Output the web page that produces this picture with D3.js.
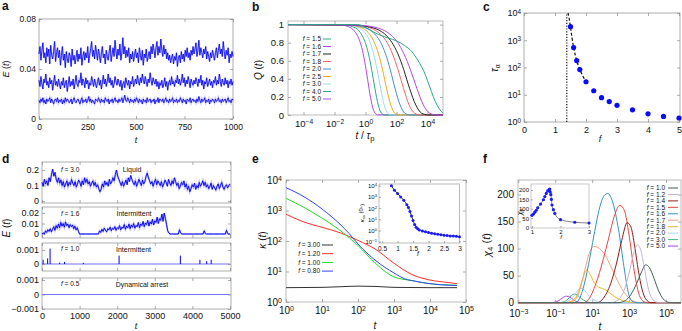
<!DOCTYPE html>
<html><head><meta charset="utf-8">
<script src="https://cdn.jsdelivr.net/npm/d3@7"></script>
<style>body{margin:0;background:#fff}</style>
</head><body><svg id="c" width="682" height="331" xmlns="http://www.w3.org/2000/svg"></svg>
<script>
const FONT = '"Liberation Sans", Arial, Helvetica, sans-serif';
// ---------------- DATA ----------------
// Panel a: E(t), values in units of 1e-3, t from 0 to 1000
const aTRange = [0, 1000];
const aHigh = [52,58,47,55,61,49,53,45,57,50,56,44,59,51,48,54,62,46,53,57,
49,55,43,51,58,47,52,41,54,48,45,53,50,42,56,47,51,44,49,55,
46,52,48,57,43,50,54,47,53,49,58,45,51,56,62,50,55,48,59,53,
47,56,51,45,53,58,49,52,44,55,50,47,54,59,46,52,57,50,63,54,
48,56,51,60,47,53,65,52,58,49,55,50,57,45,52,48,54,46,51,56,
49,53,45,57,51,47,55,43,52,49,56,46,50,54,48,58,52,60,55,49,
57,62,51,58,53,64,55,50,59,52,56,48,53,47,51,45,49,52,44,50,
47,53,42,49,51,45,54,48,52,46,55,50,57,49,53,47,55,51,58,52,
56,61,50,55,63,51,57,53,49,56,52,58,48,54,50,46,53,49,55,51,
47,53,57,49,55,60,52,56,50,62,54,48,55,51,57,45,52,49,54,50];
const aMid = [31,26,34,28,24,32,29,36,27,30,25,33,28,31,23,29,35,27,30,26,
32,28,24,30,27,33,25,29,31,22,28,34,26,30,27,32,24,29,35,28,
26,31,29,37,27,32,30,25,33,28,31,24,29,27,34,30,26,32,28,25,
30,33,27,31,24,29,35,28,32,26,30,36,29,33,27,31,25,28,34,30,
27,32,29,26,31,23,28,30,25,33,29,27,31,24,30,28,34,26,29,32,
28,35,30,27,33,29,36,31,28,34,30,26,32,29,37,31,27,33,30,28,
32,26,30,24,29,27,31,25,28,33,26,30,23,29,31,27,34,28,30,26,
31,29,35,28,32,27,30,36,29,33,26,31,28,34,30,25,32,29,27,31,
28,33,30,26,32,29,35,27,31,24,30,28,33,26,29,32,27,30,25,31,
29,34,27,31,28,36,30,26,32,29,27,33,28,31,25,30,28,32,27,30];
const aLow = [15,13,16,14,17,13,15,12,16,14,15,17,13,16,14,12,15,16,14,17,
13,15,14,16,12,15,13,17,14,16,15,13,14,16,12,15,17,14,13,15,
16,14,12,15,17,13,15,14,16,13,15,18,14,16,13,15,14,12,16,15,
14,17,15,13,16,14,15,13,17,15,14,16,12,15,14,16,13,15,17,14,
15,13,16,14,15,17,13,16,19,15,14,17,15,13,16,14,15,13,16,14,
17,15,13,16,14,15,12,16,14,15,13,17,14,15,16,13,15,14,16,12,
15,14,17,13,16,15,14,16,13,15,17,14,15,13,16,14,15,17,13,15,
14,16,13,15,14,17,15,13,16,14,15,12,16,15,14,17,13,15,16,14,
15,13,16,14,18,15,13,16,14,15,17,13,15,14,16,12,15,14,16,15,
13,16,14,15,17,14,15,13,16,14,15,16,13,15,17,14,15,13,16,15];
const aXTicks = [0,250,500,750,1000];
const aYTicks = [0,0.04,0.08];
const aYLabels = ["0","0.04","0.08"];

// Panel b: Q(t) curves, pairs [log10(t/tau_p), Q]
const bF = ["1.5","1.6","1.7","1.8","2.0","2.5","3.0","4.0","5.0"];
const bColors = ["#2aa58a","#b347e6","#222222","#f26666","#3d8fcf","#f0a91a","#a3d7f0","#2aa58a","#b347e6"];
const qLevels = [1,0.993,0.978,0.933,0.884,0.803,0.677,0.5,0.291,0.112,0.02,0.001,0];
const bLogT = {
  "1.6": [-5,-0.43,0.4,1.23,1.65,2.07,2.48,2.9,3.32,3.73,4.15,4.57,5],
  "1.7": [-5,-0.61,0.16,0.93,1.32,1.70,2.09,2.47,2.85,3.24,3.62,4.01,5],
  "1.8": [-5,-0.76,-0.04,0.67,1.03,1.39,1.74,2.1,2.46,2.81,3.17,3.53,5],
  "2.0": [-5,-0.9,-0.28,0.35,0.66,0.98,1.29,1.6,1.91,2.23,2.54,2.85,5],
  "2.5": [-5,-1.01,-0.48,0.05,0.31,0.57,0.84,1.10,1.36,1.63,1.89,2.15,5],
  "3.0": [-5,-1.07,-0.61,-0.16,0.07,0.30,0.52,0.75,0.98,1.20,1.43,1.66,5],
  "4.0": [-5,-1.27,-0.85,-0.43,-0.23,-0.02,0.19,0.40,0.61,0.82,1.03,1.23,5],
  "5.0": [-5,-1.50,-1.11,-0.73,-0.54,-0.34,-0.15,0.04,0.23,0.42,0.62,0.81,5]
};
const b15LogT = [-5,-0.5,0,0.5,1,1.5,2,2.5,3,3.25,3.5,3.75,4,4.25,4.5,4.75,5];
const b15Q =    [1,1,0.97,0.92,0.88,0.85,0.82,0.77,0.7,0.64,0.57,0.49,0.38,0.26,0.15,0.07,0.02];
const bXTicks = [1e-4,1e-2,1,1e2,1e4];
const bYTicks = [0,0.2,0.4,0.6,0.8,1];

// Panel c: tau_alpha vs f
const cF =   [1.5,1.6,1.7,1.8,2.0,2.25,2.5,2.75,3.0,3.5,4.0,4.5,5.0];
const cTau = [3160,540,180,84,30,14,7.8,5.6,4.1,2.8,2.0,1.6,1.4];
const cFitF =   [1.42,1.46,1.5,1.55,1.6,1.65,1.7,1.8,1.9,2.0];
const cFitTau = [10000,6000,3000,1200,550,300,180,85,48,30];
const cFc = 1.38;
const cXTicks = [0,1,2,3,4,5];
const cYTicks = [1,10,100,1000,10000];

// Panel d: E(t) four regimes, t from 0 to 5000
const dTRange = [0, 5000];
const d1 = [120,95,140,110,130,100,150,125,170,205,160,185,140,120,150,115,135,100,125,90,110,130,95,120,105,140,115,100,125,90,110,135,120,95,130,105,150,120,140,110,125,95,115,130,100,120,90,105,80,60,75,110,90,130,105,120,95,140,110,125,150,130,170,200,160,140,120,100,125,95,115,135,105,150,125,165,140,120,105,130,95,115,140,120,100,135,110,125,160,180,150,130,110,125,95,120,140,105,130,115,100,125,90,110,135,120,95,140,115,100,130,110,150,125,100,115,80,95,120,105,130,90,110,75,95,60,80,105,90,115,75,100,85,120,95,110,130,100,120,90,105,80,95,115,75,100,85,70,95,110,80,100,120,90,75,95,105,85,100,110]; // x1e-3
const d2 = [0,10,0,30,15,40,25,50,20,45,70,35,80,55,95,60,110,75,100,65,115,80,95,60,90,70,85,50,75,40,60,25,0,0,0,0,0,0,0,0,0,0,0,0,0,0,0,0,0,30,15,45,25,55,35,20,50,40,65,30,55,45,70,35,60,50,80,40,65,55,90,45,75,60,95,50,85,65,100,55,80,70,110,60,95,80,120,70,105,90,130,75,115,95,140,85,125,110,160,100,145,130,190,120,200,150,90,30,10,0,0,0,0,0,0,0,0,40,10,0,0,0,0,0,0,0,0,0,0,0,0,0,0,0,0,0,0,0,30,5,0,0,0,0,0,0,0,0,0,0,0,0,0,0,0,0,0,35,5,0,0]; // x1e-4
const d3SpikeT = [30,150,215,470,600,1100,2050,3680,4200,4380,4500];
const d3SpikeE = [3,4,11,1,1.5,0.8,6,6,3,2,3]; // x1e-4
const d4T = [0,5000], d4E = [0,0];
const dXTicks = [0,1000,2000,3000,4000,5000];

// Panel e: kappa(t), pairs [log10 t, log10 kappa]
const eF = ["3.00","1.20","1.00","0.80"];
const eColors = ["#333333","#ff2d2d","#22dd22","#3344ff"];
const eCurves = [
  [[0,0.47],[1,0.48],[1.5,0.5],[2,0.52],[2.5,0.51],[3,0.48],[4,0.47],[4.75,0.47]],
  [[0,2.88],[0.5,2.62],[1,2.45],[1.5,2.27],[2,2.02],[2.5,1.72],[3,1.27],[3.5,0.9],[4,0.72],[4.5,0.64],[4.75,0.6]],
  [[0,3.4],[0.5,3.1],[1,2.75],[1.5,2.35],[2,1.85],[2.5,1.25],[3,0.82],[3.5,0.7],[4,0.6],[4.5,0.56],[4.75,0.55]],
  [[0,3.75],[0.5,3.45],[1,3.05],[1.5,2.55],[1.75,2.25],[2,1.9],[2.5,1.35],[3,0.95],[3.3,0.76],[3.6,0.68],[4,0.6],[4.5,0.55],[4.75,0.54]]
];
const eXTicks = [1,10,100,1e3,1e4,1e5];
const eYTicks = [1,10,100,1e3,1e4];
const eInsF = [0.8,0.9,1.0,1.1,1.2,1.3,1.35,1.4,1.45,1.5,1.55,1.6,1.65,1.7,1.8,1.9,2.0,2.1,2.2,2.3,2.4,2.5,2.6,2.7,2.8,2.9,3.0];
const eInsK = [10000,3980,2000,1000,500,200,112,50,20,8,3.5,2.0,1.4,1.1,0.9,0.76,0.66,0.58,0.5,0.46,0.42,0.38,0.35,0.33,0.32,0.3,0.28];
const eInsXTicks = [0.5,1,1.5,2,2.5,3];
const eInsYTicks = [0.1,1,10,100,1000,10000];

// Panel f: chi4(t), pairs [log10 t, chi4]
const fF = ["1.0","1.2","1.4","1.5","1.6","1.7","1.8","2.0","3.0","5.0"];
const fColors = ["#3f6151","#c2b4cf","#8e1b1b","#e9473f","#2f93cc","#f5a27a","#efb428","#a5d8f0","#3fb28e","#a742e0"];
const fCurves = [
  [[-3,0],[2.4,0],[2.8,4],[3.1,15],[3.4,35],[3.65,55],[3.9,70],[4.1,65],[4.35,45],[4.6,22],[4.85,7],[5.1,1],[5.4,0],[5.8,0]],
  [[-3,0],[2.0,0],[2.4,5],[2.7,20],[3.0,55],[3.2,85],[3.45,107],[3.65,95],[3.85,60],[4.05,25],[4.3,5],[4.6,0],[5.8,0]],
  [[-3,0],[1.3,0],[1.6,8],[2.0,35],[2.3,70],[2.6,115],[2.9,148],[3.1,140],[3.3,105],[3.5,60],[3.7,25],[3.9,7],[4.2,0],[5.8,0]],
  [[-3,0],[0.5,0],[0.8,6],[1.2,35],[1.6,80],[1.9,120],[2.2,160],[2.5,180],[2.75,170],[3.0,125],[3.25,65],[3.5,20],[3.75,3],[4.0,0],[5.8,0]],
  [[-3,0],[0.0,0],[0.2,2],[0.5,25],[0.8,70],[1.1,125],[1.4,175],[1.65,198],[1.85,202],[2.05,192],[2.2,175],[2.5,120],[2.75,60],[2.95,20],[3.15,3],[3.4,0],[5.8,0]],
  [[-3,0],[-0.4,0],[0,3],[0.3,20],[0.6,60],[0.85,92],[1.1,104],[1.4,100],[1.7,88],[2.0,68],[2.3,46],[2.6,26],[2.9,12],[3.2,4],[3.6,0],[5.8,0]],
  [[-3,0],[-0.5,0],[-0.1,3],[0.2,15],[0.45,40],[0.7,60],[0.9,52],[1.1,38],[1.3,30],[1.55,26],[1.8,22],[2.1,14],[2.5,6],[3,1.5],[3.5,0],[5.8,0]],
  [[-3,0],[-0.6,0],[-0.3,3],[0,12],[0.2,22],[0.35,27],[0.55,24],[0.8,14],[1.1,5],[1.5,1],[2,0],[5.8,0]],
  [[-3,0],[-0.8,0],[-0.5,2],[-0.3,7],[-0.1,14],[0.05,16],[0.2,14],[0.4,8],[0.7,2],[1,0],[5.8,0]],
  [[-3,0],[-1.3,0],[-1,1],[-0.8,4],[-0.6,9],[-0.4,12],[-0.2,10],[0,5],[0.2,1.5],[0.5,0],[5.8,0]]
];
const fXTicks = [1e-3,1e-1,10,1e3,1e5];
const fYTicks = [0,50,100,150,200];
const fInsF =   [1.0,1.05,1.1,1.15,1.2,1.3,1.4,1.45,1.5,1.55,1.6,1.62,1.64,1.66,1.68,1.7,1.75,1.8,2.0,2.5,3.0];
const fInsChi = [65,72,82,92,105,125,148,165,182,195,202,205,190,175,150,120,95,75,42,28,24];
const fInsXTicks = [1,2,3];
const fInsYTicks = [0,50,100,150,200];

// ---------------- DRAWING ----------------
const svg = d3.select('#c');
svg.append('rect').attr('width',682).attr('height',331).attr('fill','#fff');

function frame(x0,y0,x1,y1,stroke){
  svg.append('rect').attr('x',x0).attr('y',y0).attr('width',x1-x0).attr('height',y1-y0)
    .attr('fill','none').attr('stroke',stroke||'#9a9a9a').attr('stroke-width',0.8);
}
function supify(g){
  g.selectAll('text').each(function(d){
    const e = Math.round(Math.log10(d));
    const t = d3.select(this); t.text('');
    t.append('tspan').text('10');
    t.append('tspan').attr('dy','-0.45em').attr('font-size','0.7em').text(e<0?'\u2212'+(-e):String(e));
  });
}
function styleAx(g,o){
  g.select('.domain').remove();
  g.selectAll('line').attr('stroke',o.tc||'#888').attr('stroke-width',0.7);
  g.selectAll('text').attr('font-size',o.fs||9).attr('font-family',FONT).attr('fill','#111');
  if(o.sup) supify(g);
}
function axB(scale,y,ticks,fmt,o){ o=o||{};
  const ax=d3.axisBottom(scale).tickValues(ticks).tickFormat(fmt).tickSizeInner(-(o.tick??3)).tickSizeOuter(0).tickPadding(o.pad??4);
  const g=svg.append('g').attr('transform',`translate(0,${y})`).call(ax); styleAx(g,o); return g; }
function axL(scale,x,ticks,fmt,o){ o=o||{};
  const ax=d3.axisLeft(scale).tickValues(ticks).tickFormat(fmt).tickSizeInner(-(o.tick??3)).tickSizeOuter(0).tickPadding(o.pad??3);
  const g=svg.append('g').attr('transform',`translate(${x},0)`).call(ax); styleAx(g,o); return g; }
function axT(scale,y,ticks,o){ o=o||{};
  const g=svg.append('g').attr('transform',`translate(0,${y})`).call(d3.axisTop(scale).tickValues(ticks).tickFormat('').tickSizeInner(-(o.tick??3)).tickSizeOuter(0)); styleAx(g,o); return g; }
function axR(scale,x,ticks,o){ o=o||{};
  const g=svg.append('g').attr('transform',`translate(${x},0)`).call(d3.axisRight(scale).tickValues(ticks).tickFormat('').tickSizeInner(-(o.tick??3)).tickSizeOuter(0)); styleAx(g,o); return g; }
function label(x,y,parts,o){ o=o||{};
  const t=svg.append('text').attr('x',x).attr('y',y).attr('font-family',FONT).attr('font-size',o.fs||10)
    .attr('text-anchor',o.anchor||'middle').attr('fill','#111');
  if(o.rot) t.attr('transform',`rotate(-90,${x},${y})`);
  if(o.bold) t.attr('font-weight','bold');
  parts.forEach(p=>{ const s=t.append('tspan').text(p.t); if(p.i) s.attr('font-style','italic');
    if(p.dy) s.attr('dy',p.dy); if(p.fs) s.attr('font-size',p.fs); });
  return t;
}
function panelLabel(x,y,s){ label(x,y,[{t:s}],{fs:12,bold:true,anchor:'start'}); }
function legendRow(xEnd,yc,txt,color,fs,l0,l1){
  label(xEnd,yc+fs*0.35,[{t:'f',i:true},{t:' = '+txt}],{fs:fs,anchor:'end'});
  svg.append('line').attr('x1',l0).attr('x2',l1).attr('y1',yc).attr('y2',yc).attr('stroke',color).attr('stroke-width',1);
}

// ---------- Panel a ----------
{
  const x=d3.scaleLinear(aTRange,[39,233]), y=d3.scaleLinear([0,0.08],[119,19]);
  frame(39,19,233,119);
  axB(x,119,aXTicks,d=>String(d),{fs:8.5,pad:5});
  axT(x,19,aXTicks);
  axL(y,39,aYTicks,(d,i)=>aYLabels[i],{fs:8.5,pad:3});
  axR(y,233,aYTicks);
  const line=d3.line().x((d,i,arr)=>x(aTRange[0]+i*(aTRange[1]-aTRange[0])/(arr.length-1))).y(d=>y(d*1e-3));
  [aHigh,aMid,aLow].forEach(s=>{
    svg.append('path').datum(s).attr('d',line).attr('fill','none').attr('stroke','#7a7aff').attr('stroke-width',1.8).attr('opacity',0.45);
    svg.append('path').datum(s).attr('d',line).attr('fill','none').attr('stroke','#0000ee').attr('stroke-width',0.8);
  });
  panelLabel(2,10,'a');
  label(136,143,[{t:'t',i:true}],{fs:9});
  label(9,69,[{t:'E',i:true},{t:' ('},{t:'t',i:true},{t:')'}],{fs:9,rot:true});
}

// ---------- Panel b ----------
{
  const x=d3.scaleLog([1e-5,1e5],[288,443]), y=d3.scaleLinear([0,1.04],[115,21]);
  frame(288,21,443,115,'#aaa');
  axB(x,115,bXTicks,d=>d,{fs:9.5,pad:5,sup:true});
  axT(x,21,bXTicks);
  axL(y,288,bYTicks,d=>d===0?'0':(d===1?'1':d.toFixed(1)),{fs:9.5,pad:4});
  axR(y,443,bYTicks);
  const line=d3.line().x(d=>x(Math.pow(10,d[0]))).y(d=>y(d[1])).curve(d3.curveMonotoneX);
  for(let i=bF.length-1;i>=0;i--){
    const f=bF[i];
    const pts = f==="1.5" ? b15LogT.map((L,k)=>[L,b15Q[k]]) : bLogT[f].map((L,k)=>[L,qLevels[k]]);
    svg.append('path').datum(pts).attr('d',line).attr('fill','none').attr('stroke',bColors[i]).attr('stroke-width',1);
  }
  bF.forEach((f,i)=>legendRow(321,39+i*7.5,f,bColors[i],6.5,323,331));
  panelLabel(252,11,'b');
  label(262,70,[{t:'Q',i:true},{t:' ('},{t:'t',i:true},{t:')'}],{fs:10,rot:true});
  label(365,139,[{t:'t',i:true},{t:' / '},{t:'\u03c4',i:true},{t:'p',dy:'0.3em',fs:'0.75em'}],{fs:10});
}

// ---------- Panel c ----------
{
  const x=d3.scaleLinear([0,5],[524,679]), y=d3.scaleLog([1,1e4],[122,13]);
  frame(524,13,680,122);
  axB(x,122,cXTicks,d=>String(d),{fs:9,pad:5});
  axT(x,13,cXTicks);
  axL(y,524,cYTicks,d=>d,{fs:9,pad:3,sup:true});
  axR(y,680,cYTicks);
  svg.append('line').attr('x1',x(cFc)).attr('x2',x(cFc)).attr('y1',y(1)).attr('y2',y(1e4))
    .attr('stroke','#111').attr('stroke-width',1.2).attr('stroke-dasharray','1.2,1.6');
  const line=d3.line().x(d=>x(d[0])).y(d=>y(d[1])).curve(d3.curveMonotoneX);
  svg.append('path').datum(cFitF.map((f,i)=>[f,cFitTau[i]])).attr('d',line).attr('fill','none')
    .attr('stroke','#111').attr('stroke-width',1.2).attr('stroke-dasharray','3,2');
  svg.selectAll(null).data(cF).enter().append('circle').attr('cx',d=>x(d)).attr('cy',(d,i)=>y(cTau[i]))
    .attr('r',2.6).attr('fill','#0a0aff');
  panelLabel(483,11,'c');
  label(600,142,[{t:'f',i:true}],{fs:9});
  label(498,68,[{t:'\u03c4',i:true},{t:'\u03b1',dy:'0.3em',fs:'0.7em'}],{fs:10,rot:true});
}

// ---------- Panel d ----------
{
  const x=d3.scaleLinear(dTRange,[42,230]);
  const X0=42,X1=231;
  const subs=[
    {y:d3.scaleLinear([0,0.2],[201,170]), top:162, bot:203, ticks:[0,0.1,0.2], labs:["0","0.1","0.2"]},
    {y:d3.scaleLinear([0,0.02],[234,213]), top:207, bot:238, ticks:[0,0.01,0.02], labs:["0","0.01","0.02"]},
    {y:d3.scaleLinear([0,0.001],[264,250]), top:243, bot:271, ticks:[0,0.001], labs:["0","0.001"]},
    {y:d3.scaleLinear([-0.001,0.001],[309,280]), top:278, bot:309, ticks:[-0.001,0,0.001], labs:["\u22120.001","0","0.001"]}
  ];
  subs.forEach((s,k)=>{
    frame(X0,s.top,X1,s.bot);
    axL(s.y,X0,s.ticks,(d,i)=>s.labs[i],{fs:9,pad:3});
    axR(s.y,X1,s.ticks);
    axT(x,s.top,dXTicks);
    if(k===3) axB(x,s.bot,dXTicks,d=>String(d),{fs:9,pad:4}); else axB(x,s.bot,dXTicks,()=>'' ,{});
  });
  const tx=(i,n)=>x(dTRange[0]+i*(dTRange[1]-dTRange[0])/(n-1));
  const l1=d3.line().x((d,i,a)=>tx(i,a.length)).y(d=>subs[0].y(d*1e-3));
  svg.append('path').datum(d1).attr('d',l1).attr('fill','none').attr('stroke','#7070ff').attr('stroke-width',2).attr('opacity',0.5);
  svg.append('path').datum(d1).attr('d',l1).attr('fill','none').attr('stroke','#0000f0').attr('stroke-width',0.9);
  const l2=d3.line().x((d,i,a)=>tx(i,a.length)).y(d=>subs[1].y(d*1e-4));
  svg.append('path').datum(d2).attr('d',l2).attr('fill','none').attr('stroke','#7070ff').attr('stroke-width',1.8).attr('opacity',0.5);
  svg.append('path').datum(d2).attr('d',l2).attr('fill','none').attr('stroke','#0000f0').attr('stroke-width',0.9);
  svg.append('line').attr('x1',x(0)).attr('x2',x(5000)).attr('y1',subs[2].y(0)).attr('y2',subs[2].y(0)).attr('stroke','#6060ff').attr('stroke-width',0.9);
  d3SpikeT.forEach((t,i)=>svg.append('line').attr('x1',x(t)).attr('x2',x(t)).attr('y1',subs[2].y(0)).attr('y2',subs[2].y(d3SpikeE[i]*1e-4)).attr('stroke','#0000f0').attr('stroke-width',1));
  const l4=d3.line().x(d=>x(d)).y((d,i)=>subs[3].y(d4E[i]));
  svg.append('path').datum(d4T).attr('d',l4).attr('fill','none').attr('stroke','#7777ff').attr('stroke-width',1);
  const fl=[["3.0",172,"Liquid",132,172],["1.6",216,"Intermittent",134,216],["1.0",250.5,"Intermittent",133.5,252],["0.5",286,"Dynamical arrest",142,287]];
  fl.forEach(r=>{
    label(61,r[1],[{t:'f',i:true},{t:' = '+r[0]}],{fs:6.5,anchor:'start'});
    label(r[3],r[4],[{t:r[2]}],{fs:7});
  });
  panelLabel(2,163,'d');
  label(136,329,[{t:'t',i:true}],{fs:9});
  label(10,228,[{t:'E',i:true},{t:' ('},{t:'t',i:true},{t:')'}],{fs:10,rot:true});
}

// ---------- Panel e ----------
{
  const x=d3.scaleLog([1,1e5],[286,466]), y=d3.scaleLog([1,1e4],[302,180]);
  frame(286,180,466,302,'#aaa');
  axB(x,302,eXTicks,d=>d,{fs:10,pad:5,sup:true});
  axT(x,180,eXTicks);
  axL(y,286,eYTicks,d=>d,{fs:10,pad:4,sup:true});
  axR(y,466,eYTicks);
  const line=d3.line().x(d=>x(Math.pow(10,d[0]))).y(d=>y(Math.pow(10,d[1]))).curve(d3.curveMonotoneX);
  eCurves.forEach((c,i)=>svg.append('path').datum(c).attr('d',line).attr('fill','none').attr('stroke',eColors[i]).attr('stroke-width',1));
  eF.forEach((f,i)=>legendRow(320,245+i*8.7,f,eColors[i],6.5,322,333));
  // inset
  const xi=d3.scaleLinear([0.4,3],[379,459.5]), yi=d3.scaleLog([0.1,1e4],[241.7,185.7]);
  svg.append('rect').attr('x',379).attr('y',184).attr('width',80.5).attr('height',59).attr('fill','#fff');
  frame(379,184,459.5,243,'#aaa');
  axB(xi,243,eInsXTicks,d=>String(d),{fs:6.5,pad:3,tick:2});
  axL(yi,379,eInsYTicks,d=>d,{fs:6,pad:2,tick:2,sup:true});
  const li=d3.line().x((d,i)=>xi(d)).y((d,i)=>yi(eInsK[i])).curve(d3.curveMonotoneX);
  svg.append('path').datum(eInsF).attr('d',li).attr('fill','none').attr('stroke','#111').attr('stroke-width',0.9);
  svg.selectAll(null).data(eInsF).enter().append('circle').attr('cx',d=>xi(d)).attr('cy',(d,i)=>yi(eInsK[i])).attr('r',1.5).attr('fill','#1a1aff');
  label(418,256,[{t:'f',i:true}],{fs:6.5});
  label(364,213,[{t:'\u03ba',i:true},{t:'ss',dy:'0.3em',fs:'0.7em'},{t:' (0',dy:'-0.3em'},{t:'+',dy:'-0.4em',fs:'0.7em'},{t:')',dy:'0.4em'}],{fs:6,rot:true});
  panelLabel(252,163,'e');
  label(375,329,[{t:'t',i:true}],{fs:10});
  label(266,240,[{t:'\u03ba',i:true},{t:' ('},{t:'t',i:true},{t:')'}],{fs:10,rot:true});
}

// ---------- Panel f ----------
{
  const x=d3.scaleLog([1e-3,1e5],[518.3,666]), y=d3.scaleLinear([0,200],[302.7,194.5]);
  frame(518,180,681,302.7,'#aaa');
  axB(x,302.7,fXTicks,d=>d,{fs:10,pad:7,sup:true});
  axT(x,180,fXTicks);
  axL(y,518,fYTicks,d=>String(d),{fs:10,pad:4});
  axR(y,681,fYTicks);
  const line=d3.line().x(d=>x(Math.pow(10,d[0]))).y(d=>y(d[1])).curve(d3.curveMonotoneX);
  for(let i=fCurves.length-1;i>=0;i--)
    svg.append('path').datum(fCurves[i]).attr('d',line).attr('fill','none').attr('stroke',fColors[i]).attr('stroke-width',1);
  fF.forEach((f,i)=>legendRow(665,188+i*6.45,f,fColors[i],6.5,668,678));
  // inset
  const xi=d3.scaleLinear([1,3],[532,589]), yi=d3.scaleLinear([0,200],[227.5,190]);
  frame(531,184,589,228,'#bbb');
  axB(xi,228,fInsXTicks,d=>String(d),{fs:6,pad:2,tick:2});
  axL(yi,531,fInsYTicks,d=>String(d),{fs:6,pad:2,tick:2});
  const li=d3.line().x(d=>xi(d)).y((d,i)=>yi(fInsChi[i])).curve(d3.curveMonotoneX);
  svg.append('path').datum(fInsF).attr('d',li).attr('fill','none').attr('stroke','#777').attr('stroke-width',0.9);
  svg.selectAll(null).data(fInsF).enter().append('circle').attr('cx',d=>xi(d)).attr('cy',(d,i)=>yi(fInsChi[i])).attr('r',1.6).attr('fill','#1a1aff');
  label(561,239,[{t:'f',i:true}],{fs:6});
  label(522,212,[{t:'\u03c7',i:true},{t:'p',dy:'0.3em',fs:'0.7em'}],{fs:7,rot:true});
  panelLabel(483,163,'f');
  label(600,330,[{t:'t',i:true}],{fs:10});
  label(491,245,[{t:'\u03c7',i:true},{t:'4',dy:'0.3em',fs:'0.7em'},{t:' (',dy:'-0.3em'},{t:'t',i:true},{t:')'}],{fs:11,rot:true});
}
</script></body></html>
